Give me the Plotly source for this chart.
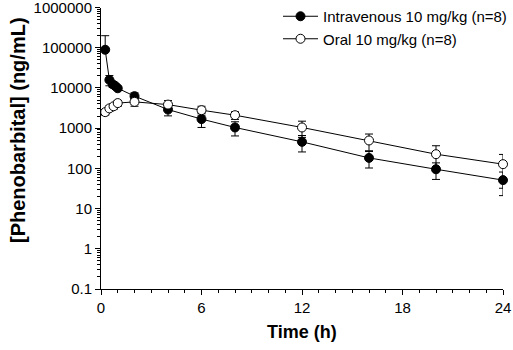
import plotly.graph_objects as go

# Data
iv_time = [0.25, 0.5, 0.7, 0.85, 1.0, 2, 4, 6, 8, 12, 16, 20, 24]
iv_mean = [89000, 15800, 12300, 11200, 9800, 6250, 2900, 1680, 1040, 456, 182, 95, 51]
iv_sd_plus = [110000, 4500, 2000, 1500, 1200, 1300, 880, 640, 400, 200, 80, 42, 30]
iv_sd_minus = [0, 4500, 2000, 1500, 1200, 1300, 880, 640, 400, 200, 80, 42, 30]

po_time = [0.25, 0.5, 0.75, 1.0, 2, 4, 6, 8, 12, 16, 20, 24]
po_mean = [2500, 3100, 3500, 4200, 4500, 3850, 2800, 2100, 1040, 494, 225, 127]
po_sd = [400, 500, 600, 700, 1000, 1000, 700, 450, 450, 220, 140, 95]

x_ticks = [0, 6, 12, 18, 24]
y_ticks = [0.1, 1, 10, 100, 1000, 10000, 100000, 1000000]
y_ticklabels = ["0.1", "1", "10", "100", "1000", "10000", "100000", "1000000"]

legend_names = ["Intravenous 10 mg/kg (n=8)", "Oral 10 mg/kg (n=8)"]
x_title = "Time (h)"
y_title = "[Phenobarbital] (ng/mL)"

FONT = "Liberation Sans, Arial, sans-serif"

fig = go.Figure()
fig.add_trace(go.Scatter(
    x=iv_time, y=iv_mean, mode="lines+markers", name=legend_names[0],
    line=dict(color="black", width=1),
    marker=dict(symbol="circle", size=9, color="black", line=dict(color="black", width=1)),
    error_y=dict(type="data", array=iv_sd_plus, arrayminus=iv_sd_minus, symmetric=False,
                 color="black", thickness=1, width=4),
    cliponaxis=False,
))
fig.add_trace(go.Scatter(
    x=po_time, y=po_mean, mode="lines+markers", name=legend_names[1],
    line=dict(color="black", width=1),
    marker=dict(symbol="circle", size=9, color="white", line=dict(color="black", width=1)),
    error_y=dict(type="data", array=po_sd, color="black", thickness=1, width=4),
    cliponaxis=False,
))

minor_y = []
for e in range(-1, 6):
    for d in range(2, 10):
        minor_y.append(d * 10 ** e)

H_PLOT = 289.0  # plot-area height in px (margin t=0, b=61)

fig.update_layout(
    width=513, height=350,
    margin=dict(l=101, r=10, t=0, b=61),
    paper_bgcolor="white", plot_bgcolor="white",
    font=dict(family=FONT, color="black", size=15),
    showlegend=True,
    legend=dict(x=0.4403, y=1.0, xanchor="left", yanchor="top",
                bgcolor="rgba(0,0,0,0)", font=dict(size=15, family=FONT),
                tracegroupgap=0, itemwidth=35),
    xaxis=dict(
        range=[0, 24], tickvals=x_ticks, showline=True, linecolor="black", linewidth=1,
        ticks="outside", ticklen=5, tickcolor="black", showgrid=False, zeroline=False,
        minor=dict(dtick=1, ticks="outside", ticklen=3, tickcolor="black", showgrid=False),
        tickfont=dict(size=15), automargin=False, ticklabeloverflow="allow",
    ),
    yaxis=dict(
        type="log", range=[-1, 6], tickvals=y_ticks, ticktext=y_ticklabels,
        domain=[0, (H_PLOT - 7.5) / H_PLOT],
        showline=True, linecolor="black", linewidth=1,
        ticks="outside", ticklen=5, tickcolor="black", showgrid=False, zeroline=False,
        minor=dict(tickvals=minor_y, ticks="outside", ticklen=3, tickcolor="black", showgrid=False),
        tickfont=dict(size=15), automargin=False, ticklabeloverflow="allow",
    ),
    annotations=[
        dict(text="<b>" + x_title + "</b>", xref="paper", yref="paper",
             x=(302 - 101) / 402.0, y=(H_PLOT - 332) / H_PLOT,
             xanchor="center", yanchor="middle", showarrow=False,
             font=dict(size=18, family=FONT)),
        dict(text="<b>" + y_title + "</b>", xref="paper", yref="paper",
             x=(18 - 101) / 402.0, y=(H_PLOT - 130) / H_PLOT, textangle=-90,
             xanchor="center", yanchor="middle", showarrow=False,
             font=dict(size=20, family=FONT)),
    ],
)

fig.write_html("out.html", config={"displayModeBar": False},
               post_script="document.body.style.margin='0';")
